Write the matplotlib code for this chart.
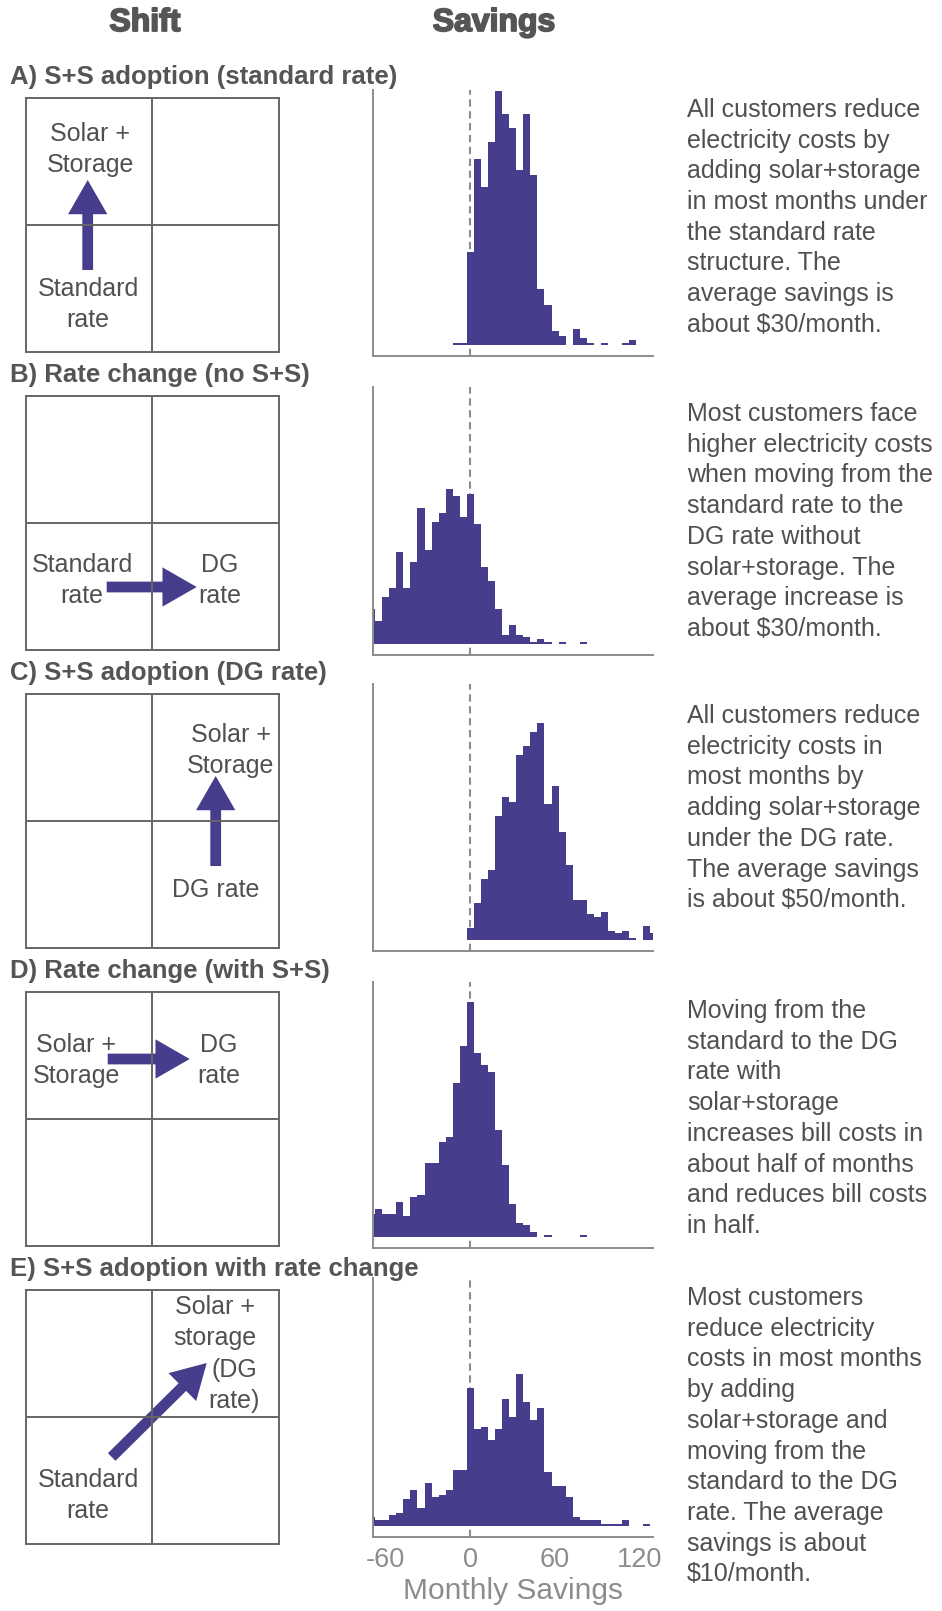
import numpy as np
import matplotlib
matplotlib.use("Agg")
import matplotlib.pyplot as plt
import matplotlib.patheffects as pe

plt.rcParams['font.family'] = ['Liberation Sans', 'DejaVu Sans']
plt.rcParams['axes.unicode_minus'] = False

# histogram bins (centre of each 5-dollar bin) and counts per panel
bin_centers = list(range(-70, 135, 5))
counts_a = [0, 0, 0, 0, 0, 0, 0, 0, 0, 0, 0, 0, 1, 1, 40, 80, 68, 87, 109, 99, 93,
            75, 99, 73, 24, 17, 6, 4, 0, 7, 3, 1, 0, 1, 0, 0, 1, 2, 0, 0, 0]
counts_b = [15, 10, 20, 24, 39, 24, 35, 58, 40, 52, 56, 66, 63, 54, 64, 51, 33, 27, 15, 4, 8,
            4, 3, 1, 2, 1, 0, 1, 0, 0, 1, 0, 0, 0, 0, 0, 0, 0, 0, 0, 0]
counts_c = [0, 0, 0, 0, 0, 0, 0, 0, 0, 0, 0, 0, 0, 0, 5, 16, 26, 30, 53, 61, 59,
            79, 83, 89, 93, 58, 66, 46, 32, 17, 17, 11, 10, 12, 4, 3, 4, 1, 0, 6, 3]
counts_d = [10, 12, 10, 10, 15, 9, 17, 18, 32, 32, 41, 43, 66, 82, 101, 79, 74, 71, 46, 31, 14,
            6, 5, 2, 0, 1, 0, 0, 0, 0, 1, 0, 0, 0, 0, 0, 0, 0, 0, 0, 0]
counts_e = [4, 3, 3, 5, 6, 12, 16, 8, 19, 13, 14, 16, 25, 25, 61, 43, 44, 38, 43, 56, 48,
            67, 55, 47, 52, 24, 18, 18, 13, 4, 3, 3, 3, 1, 1, 1, 3, 0, 0, 1, 0]
all_counts = [counts_a, counts_b, counts_c, counts_d, counts_e]

panel_titles = ["A) S+S adoption (standard rate)",
                "B) Rate change (no S+S)",
                "C) S+S adoption (DG rate)",
                "D) Rate change (with S+S)",
                "E) S+S adoption with rate change"]

descriptions = [
    "All customers reduce\nelectricity costs by\nadding solar+storage\nin most months under\n"
    "the standard rate\nstructure. The\naverage savings is\nabout $30/month.",
    "Most customers face\nhigher electricity costs\nwhen moving from the\nstandard rate to the\n"
    "DG rate without\nsolar+storage. The\naverage increase is\nabout $30/month.",
    "All customers reduce\nelectricity costs in\nmost months by\nadding solar+storage\n"
    "under the DG rate.\nThe average savings\nis about $50/month.",
    "Moving from the\nstandard to the DG\nrate with\nsolar+storage\nincreases bill costs in\n"
    "about half of months\nand reduces bill costs\nin half.",
    "Most customers\nreduce electricity\ncosts in most months\nby adding\nsolar+storage and\n"
    "moving from the\nstandard to the DG\nrate. The average\nsavings is about\n$10/month.",
]

xticks = [-60, 0, 60, 120]

W, H = 942, 1611
purple = '#463e8c'
text_col = '#505050'
axis_col = '#8c8c8c'
box_col = '#666666'

fig = plt.figure(figsize=(W / 100, H / 100), dpi=100)


def fx(px):
    return px / W


def fy(py):
    return 1 - py / H


def lines_at(lines, x, y0, step, size, ha='center'):
    for i, ln in enumerate(lines.split('\n')):
        fig.text(fx(x), fy(y0 + i * step), ln, ha=ha, va='baseline',
                 fontsize=size, color=text_col)


# column headers
for label, x in [("Shift", 145), ("Savings", 494)]:
    fig.text(fx(x), fy(23), label, ha='center', va='center', fontsize=23,
             fontweight='bold', color='#555555',
             path_effects=[pe.withStroke(linewidth=1.3, foreground='#555555')])

box_left, box_size = 25.7, 253.5
box_tops = [98, 396, 694, 992, 1290]
hist_left, hist_right = 373, 652.7
hist_tops = [90, 387, 684, 982, 1278]
hist_bottoms = [356, 655, 951, 1248, 1537]
desc_baselines = [117, 421, 723, 1018, 1305]

# labels inside the 2x2 boxes: (text, x centre, first baseline offset from box top)
box_labels = [
    [("Solar +\nStorage", 90, 43), ("Standard\nrate", 88, 198)],
    [("Standard\nrate", 82, 176), ("DG\nrate", 220, 176)],
    [("Solar +\nStorage", 231, 48), ("DG rate", 216, 203)],
    [("Solar +\nStorage", 76, 60), ("DG\nrate", 219, 60)],
    [("Solar +\nstorage", 215, 24), ("(DG\nrate)", 234, 87), ("Standard\nrate", 88, 197)],
]
# arrows: (x0, y0, x1, y1) in px offsets from box top-left
box_arrows = [
    (62, 172, 62, 82),
    (81, 191, 171, 191),
    (190, 172, 190, 82),
    (82, 67, 164, 67),
    (86, 167, 181, 73),
]

scale = box_size / 2
for k in range(5):
    top = box_tops[k]
    bax = fig.add_axes([fx(box_left), fy(top + box_size), box_size / W, box_size / H])
    bax.set_xlim(0, 2)
    bax.set_ylim(0, 2)
    bax.set_xticks([])
    bax.set_yticks([])
    for s in bax.spines.values():
        s.set_color(box_col)
        s.set_linewidth(1.4)
    bax.axhline(1, color=box_col, lw=1.4)
    bax.axvline(1, color=box_col, lw=1.4)
    x0, y0, x1, y1 = box_arrows[k]
    bax.arrow(x0 / scale, 2 - y0 / scale, (x1 - x0) / scale, -(y1 - y0) / scale,
              width=0.085, head_width=0.31, head_length=0.27,
              length_includes_head=True, color=purple, lw=0)
    for txt, x, dy in box_labels[k]:
        lines_at(txt, x, top + dy, 31, 18)

    fig.text(fx(10), fy(top - 21), panel_titles[k], ha='left', va='center',
             fontsize=18.5, fontweight='bold', color='#555555')

    lines_at(descriptions[k], 687, desc_baselines[k], 30.7, 18, ha='left')

    # histogram
    ax = fig.add_axes([fx(hist_left), fy(hist_bottoms[k]),
                       (hist_right - hist_left) / W,
                       (hist_bottoms[k] - hist_tops[k]) / H])
    ax.bar(bin_centers, all_counts[k], width=5, color=purple, linewidth=0, zorder=2)
    ax.axvline(0, color=axis_col, ls=(0, (3.5, 2.2)), lw=1.5, zorder=1)
    ax.set_xlim(-69, 129.2)
    ax.set_ylim(-4.7, 109.5)
    for side in ['top', 'right']:
        ax.spines[side].set_visible(False)
    for side in ['left', 'bottom']:
        ax.spines[side].set_color(axis_col)
        ax.spines[side].set_linewidth(1.4)
    ax.set_yticks([])
    ax.set_xticks(xticks)
    ax.set_xticks([0], minor=True)
    ax.tick_params(axis='x', which='major', length=0, pad=7,
                   labelsize=19.5, labelcolor=axis_col)
    ax.tick_params(axis='x', which='minor', direction='in', length=6,
                   width=1.3, color=axis_col)
    if k < 4:
        ax.set_xticklabels([])
    else:
        ax.set_xlabel("Monthly Savings", fontsize=21.5, color=axis_col, labelpad=3)

fig.savefig("out.png", dpi=100)
